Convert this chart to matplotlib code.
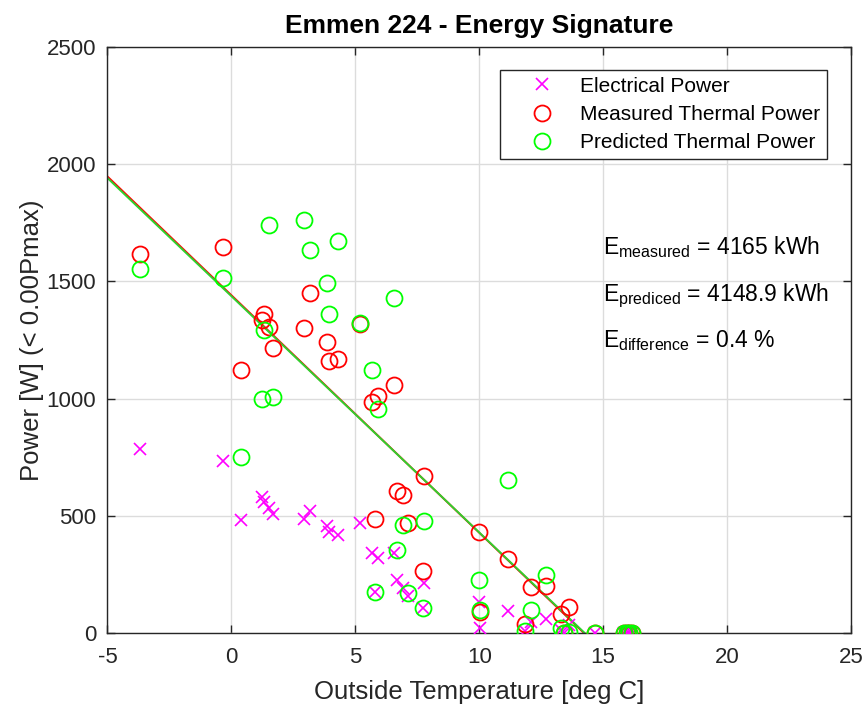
import matplotlib
matplotlib.use("Agg")
import matplotlib.pyplot as plt
import numpy as np

plt.rcParams['font.family'] = ['Liberation Sans', 'DejaVu Sans']
plt.rcParams['mathtext.fontset'] = 'custom'
plt.rcParams['mathtext.rm'] = 'Liberation Sans'
plt.rcParams['mathtext.it'] = 'Liberation Sans'
plt.rcParams['axes.unicode_minus'] = False

# Daily mean outside temperature [deg C]
temperature = [-3.67, -0.33, 0.40, 1.22, 1.32, 1.50, 1.66, 2.91, 3.17, 3.85,
               3.94, 4.30, 5.17, 5.67, 5.78, 5.91, 6.58, 6.69, 6.91, 7.14,
               7.77, 7.74, 9.99, 10.02, 11.17, 11.84, 12.07, 12.68, 13.31, 13.63,
               13.43, 14.69, 15.85, 15.95, 16.05, 16.15]
# Electrical power [W]
electrical = [784, 733, 483, 582, 558, 534, 508, 487, 522, 456,
              430, 420, 470, 343, 175, 321, 341, 225, 190, 156,
              214, 105, 133, 22, 95, 10, 48, 58, 12, 34,
              0, 0, 0, 0, 0, 0]
# Measured thermal power [W]
measured = [1619, 1645, 1120, 1336, 1362, 1305, 1214, 1301, 1449, 1243,
            1162, 1169, 1318, 985, 487, 1011, 1060, 604, 588, 468,
            669, 266, 430, 90, 317, 40, 195, 199, 82, 110,
            0, 0, 0, 0, 0, 0]
# Predicted thermal power [W]
predicted = [1551, 1513, 753, 997, 1291, 1742, 1006, 1761, 1634, 1495,
             1362, 1673, 1322, 1124, 175, 954, 1428, 352, 461, 170,
             477, 107, 227, 99, 654, 8, 98, 248, 20, 3,
             0, 0, 0, 0, 0, 0]

# Linear energy-signature fits: P = intercept + slope * T (clipped at zero)
fit_measured = (1441.0, -101.3)
fit_predicted = (1437.0, -100.8)

energy_measured = 4165
energy_predicted = 4148.9
energy_difference = 0.4

txt = '#262626'
fig = plt.figure(figsize=(8.64, 7.06), dpi=100)
ax = fig.add_axes([0.1244, 0.1034, 0.8605, 0.8300])

def fit_line(fit):
    b, m = fit
    t0 = -5.0
    t1 = -b / m
    return [t0, t1], [b + m * t0, b + m * t1]

ax.plot(temperature, electrical, 'x', color=(1, 0, 1), ms=8, mew=1.2,
        label='Electrical Power', zorder=3)
ax.plot(temperature, measured, 'o', mfc='none', mec=(1, 0, 0), ms=11.5, mew=1.3,
        label='Measured Thermal Power', zorder=3)
ax.plot(temperature, predicted, 'o', mfc='none', mec=(0, 1, 0), ms=11.5, mew=1.3,
        label='Predicted Thermal Power', zorder=3)

lx, ly = fit_line(fit_measured)
ax.plot(lx, ly, '-', color=(1, 0, 0), lw=1.4, zorder=2)
lx, ly = fit_line(fit_predicted)
ax.plot(lx, ly, '-', color='#2fd12f', lw=1.4, zorder=2)

ax.set_xlim(-5, 25)
ax.set_ylim(0, 2500)
ax.set_xticks(np.arange(-5, 26, 5))
ax.set_yticks(np.arange(0, 2501, 500))
ax.grid(True, color='#dcdcdc', lw=1.0)
ax.set_axisbelow(True)
ax.tick_params(direction='in', top=True, right=True, length=6, width=1.0,
               labelsize=16, colors=txt, labelcolor=txt)
ax.tick_params(axis='x', pad=10)
ax.tick_params(axis='y', pad=8)
for s in ax.spines.values():
    s.set_color(txt)
    s.set_linewidth(1.0)

ax.set_xlabel('Outside Temperature [deg C]', fontsize=18.5, color=txt, labelpad=9)
ax.set_ylabel('Power [W] (< 0.00Pmax)', fontsize=18.5, color=txt, labelpad=2)
ax.set_title('Emmen 224 - Energy Signature', fontsize=19, fontweight='bold',
             color='black', pad=10)

ax.text(15.0, 1618, r'E$_{\mathrm{measured}}$ = %g kWh' % energy_measured,
        fontsize=16.5, color='black', va='baseline')
ax.text(15.0, 1418, r'E$_{\mathrm{prediced}}$ = %.1f kWh' % energy_predicted,
        fontsize=16.5, color='black', va='baseline')
ax.text(15.0, 1219, r'E$_{\mathrm{difference}}$ = %.1f %%' % energy_difference,
        fontsize=16.5, color='black', va='baseline')

leg = ax.legend(loc='upper right', bbox_to_anchor=(0.968, 0.961), fontsize=15,
                frameon=True, fancybox=False, framealpha=1, edgecolor=txt,
                handlelength=3.3, handletextpad=0.2, borderpad=0.33,
                labelspacing=0.45, borderaxespad=0)
leg.get_frame().set_linewidth(1.0)

fig.savefig('out.png', dpi=100, facecolor='white')
